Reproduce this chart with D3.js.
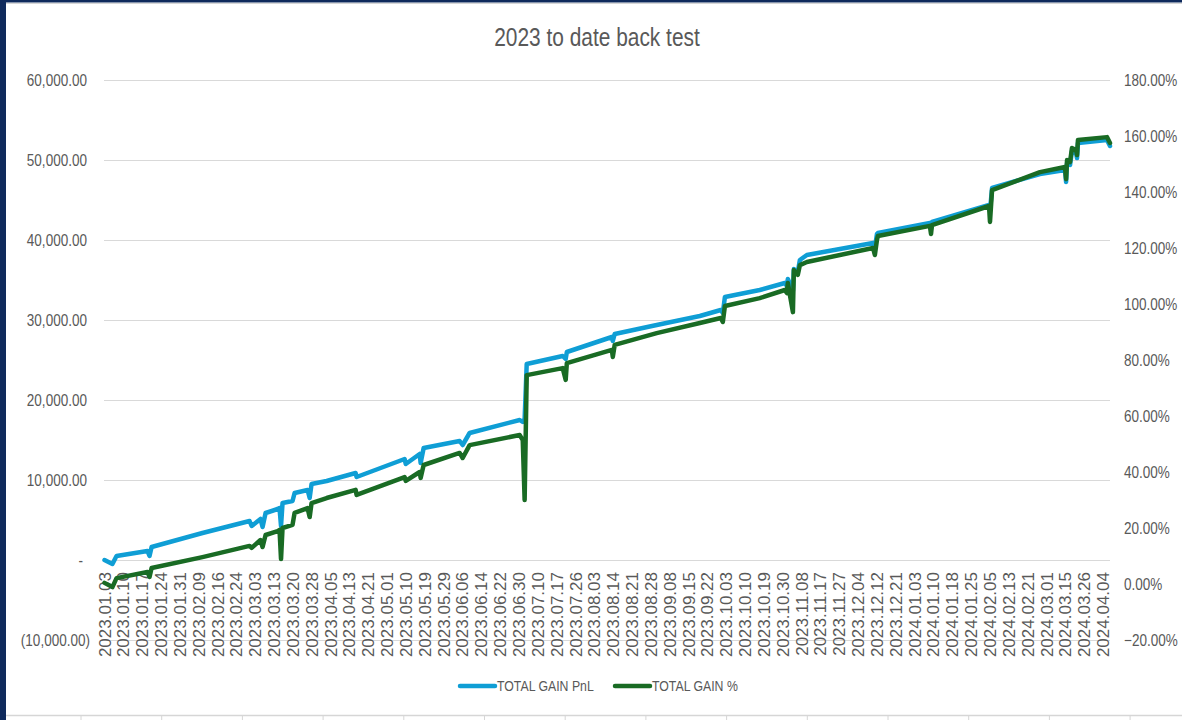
<!DOCTYPE html>
<html>
<head>
<meta charset="utf-8">
<script src="https://cdn.jsdelivr.net/npm/d3@7"></script>
<style>
  body { margin: 0; background: #fff; }
  text { fill: #595959; }
</style>
</head>
<body>
<svg id="chart" width="1182" height="720"></svg>
<script>
// labels shown on the category axis (every few trading days)
const dateLabels = [
  "2023.01.03","2023.01.10","2023.01.17","2023.01.24","2023.01.31","2023.02.09",
  "2023.02.16","2023.02.24","2023.03.03","2023.03.13","2023.03.20","2023.03.28",
  "2023.04.05","2023.04.13","2023.04.21","2023.05.01","2023.05.10","2023.05.19",
  "2023.05.29","2023.06.06","2023.06.14","2023.06.22","2023.06.30","2023.07.10",
  "2023.07.17","2023.07.26","2023.08.03","2023.08.14","2023.08.21","2023.08.28",
  "2023.09.08","2023.09.15","2023.09.22","2023.10.03","2023.10.10","2023.10.19",
  "2023.10.30","2023.11.08","2023.11.17","2023.11.27","2023.12.04","2023.12.12",
  "2023.12.21","2024.01.03","2024.01.10","2024.01.18","2024.01.25","2024.02.05",
  "2024.02.13","2024.02.21","2024.03.01","2024.03.15","2024.03.26","2024.04.04"
];

// sample position along the axis, in label units
const step = [
  0.00, 0.42, 0.64, 2.28, 2.39, 2.50, 5.20, 7.70, 7.81, 8.28,
  8.39, 8.55, 9.19, 9.29, 9.37, 9.45, 9.98, 10.09, 10.78, 10.89,
  10.99, 11.79, 13.33, 13.38, 15.93, 15.99, 16.73, 16.78, 16.94, 18.85,
  19.01, 19.38, 22.04, 22.20, 22.30, 22.41, 24.32, 24.48, 24.54, 26.93,
  26.98, 27.08, 29.31, 31.60, 32.71, 32.82, 32.93, 34.78, 36.11, 36.22,
  36.27, 36.54, 36.59, 36.80, 36.91, 37.28, 40.79, 40.89, 41.00, 41.05,
  43.81, 43.87, 43.92, 46.95, 47.00, 47.11, 49.65, 50.98, 51.04, 51.09,
  51.25, 51.35, 51.57, 51.62, 51.67, 53.21, 53.37
];

// TOTAL GAIN PnL (left axis)
const gainPnl = [
  0, -500, 500, 1125, 500, 1625, 3375, 4875, 4250, 5125,
  4125, 5875, 6375, 6500, 4250, 7125, 7375, 8375, 8750, 7750,
  9500, 9875, 10875, 10375, 12625, 12000, 13250, 12125, 14000, 14875,
  14375, 15875, 17500, 17250, 17625, 24500, 25500, 25125, 26000, 27875,
  27375, 28250, 29375, 30500, 31250, 30875, 32875, 33750, 34625, 34250,
  35125, 33625, 36375, 36000, 37500, 38125, 39625, 39000, 40750, 40875,
  42125, 41375, 42250, 44375, 43625, 46500, 48250, 48750, 47250, 49625,
  49375, 51125, 50875, 50250, 52125, 52500, 51750
];

// TOTAL GAIN % (right axis)
const gainPct = [
  0.4, -1.1, 2.1, 4.3, 2.5, 5.7, 9.6, 13.6, 12.9, 15.7,
  13.2, 17.5, 18.9, 19.3, 8.9, 20.0, 21.1, 25.4, 27.1, 23.9,
  28.9, 30.7, 33.6, 31.8, 38.2, 36.8, 40.0, 37.9, 42.5, 46.8,
  45.0, 49.6, 53.2, 51.4, 30.0, 74.6, 77.1, 72.9, 78.9, 83.6,
  81.1, 85.4, 89.6, 93.2, 95.0, 93.6, 99.3, 102.1, 105.0, 103.9,
  107.5, 97.1, 112.1, 110.4, 113.9, 115.0, 120.0, 117.5, 122.9, 124.3,
  127.9, 125.0, 128.2, 135.0, 129.3, 140.7, 147.1, 148.9, 144.6, 151.4,
  150.7, 155.7, 155.0, 153.2, 158.6, 159.6, 157.5
];

const seriesNames = ["TOTAL GAIN PnL", "TOTAL GAIN %"];
const seriesColors = ["#0F9ED5", "#196B24"];

const chartTitle = "2023 to date back test";

////////////////////////////////////////////////////////////////////////
// layout

const svg = d3.select("#chart");
const font = "'Liberation Sans', Arial, sans-serif";
// horizontal texts use a narrow face; squeeze the regular one
const squeeze = 0.82;

let xScale = d3.scaleLinear().domain([0, d3.max(step)]).range([104.5, 1110]);
let yLeft = d3.scaleLinear().domain([-10000, 60000]).range([640, 80]);
let yRight = d3.scaleLinear().domain([-20, 180]).range([640, 80]);

// spreadsheet frame around the chart object
svg.append("rect").attr("x", 0).attr("y", 0).attr("width", 1182).attr("height", 720).attr("fill", "#fff");
svg.append("rect").attr("x", 0).attr("y", 0).attr("width", 1182).attr("height", 2.5).attr("fill", "#0f2a5c");
svg.append("line").attr("x1", 6).attr("x2", 1182).attr("y1", 3.5).attr("y2", 3.5)
  .attr("stroke", "#d6d6d6");
svg.append("line").attr("x1", 6).attr("x2", 1182).attr("y1", 715.5).attr("y2", 715.5)
  .attr("stroke", "#d6d6d6").attr("stroke-width", 1.5);
svg.append("g")
  .selectAll("line")
  .data(d3.range(81, 1182, 80.7))
  .enter()
  .append("line")
  .attr("x1", d => d).attr("x2", d => d)
  .attr("y1", 716).attr("y2", 720)
  .attr("stroke", "#d6d6d6");
svg.append("rect").attr("x", 0).attr("y", 0).attr("width", 6).attr("height", 720).attr("fill", "#0f2a5c");

// title
svg.append("text")
  .attr("transform", `translate(597,46) scale(${squeeze},1)`)
  .attr("text-anchor", "middle")
  .style("font-family", font)
  .style("font-size", "25.5px")
  .text(chartTitle);

// gridlines from the left axis ticks
let leftTicks = yLeft.ticks(8);
svg.append("g")
  .attr("class", "grid")
  .selectAll("line")
  .data(leftTicks)
  .enter()
  .append("line")
  .attr("x1", 104)
  .attr("x2", 1110)
  .attr("y1", d => Math.round(yLeft(d)) + 0.5)
  .attr("y2", d => Math.round(yLeft(d)) + 0.5)
  .attr("stroke", "#d9d9d9")
  .attr("stroke-width", 1.2);

// left axis labels, accounting style
let fmt = d3.format(",.2f");
svg.append("g")
  .attr("class", "leftAxis")
  .selectAll("text")
  .data(leftTicks)
  .enter()
  .append("text")
  .attr("transform", d => `translate(${d < 0 ? 90 : (d == 0 ? 83 : 87)},${yLeft(d)}) scale(${squeeze},1)`)
  .attr("dy", "0.35em")
  .attr("text-anchor", "end")
  .style("font-family", font)
  .style("font-size", "16.5px")
  .text(d => d < 0 ? "(" + fmt(-d) + ")" : (d == 0 ? "-" : fmt(d)));

// right axis labels
let rightTicks = yRight.ticks(10);
svg.append("g")
  .attr("class", "rightAxis")
  .selectAll("text")
  .data(rightTicks)
  .enter()
  .append("text")
  .attr("transform", d => `translate(1124,${yRight(d)}) scale(${squeeze},1)`)
  .attr("dy", "0.35em")
  .style("font-family", font)
  .style("font-size", "16.5px")
  .text(d => d3.format(".2f")(d) + "%");

// category labels, rotated
svg.append("g")
  .attr("class", "xAxis")
  .selectAll("text")
  .data(dateLabels)
  .enter()
  .append("text")
  .attr("transform", (d, i) => `translate(${xScale(i) + 6},572) rotate(-90)`)
  .attr("text-anchor", "end")
  .style("font-family", font)
  .style("font-size", "17px")
  .text(d => d);

// the two lines
let pnlLine = d3.line()
  .x((d, i) => xScale(step[i]))
  .y(d => yLeft(d));
let pctLine = d3.line()
  .x((d, i) => xScale(step[i]))
  .y(d => yRight(d));

svg.append("path")
  .datum(gainPnl)
  .attr("d", pnlLine)
  .attr("fill", "none")
  .attr("stroke", seriesColors[0])
  .attr("stroke-width", 4.5)
  .attr("stroke-linejoin", "round")
  .attr("stroke-linecap", "round");

svg.append("path")
  .datum(gainPct)
  .attr("d", pctLine)
  .attr("fill", "none")
  .attr("stroke", seriesColors[1])
  .attr("stroke-width", 4.5)
  .attr("stroke-linejoin", "round")
  .attr("stroke-linecap", "round");

// legend
let legendX = [460, 615];
let legend = svg.append("g")
  .attr("class", "legend")
  .selectAll("g")
  .data(seriesNames)
  .enter()
  .append("g")
  .attr("transform", (d, i) => `translate(${legendX[i]},686)`);

legend.append("line")
  .attr("x1", 0).attr("x2", 35)
  .attr("y1", 0).attr("y2", 0)
  .attr("stroke", (d, i) => seriesColors[i])
  .attr("stroke-width", 4.5)
  .attr("stroke-linecap", "round");

legend.append("text")
  .attr("transform", `translate(37,0) scale(${squeeze},1)`)
  .attr("dy", "0.35em")
  .style("font-family", font)
  .style("font-size", "15px")
  .text(d => d);
</script>
</body>
</html>
